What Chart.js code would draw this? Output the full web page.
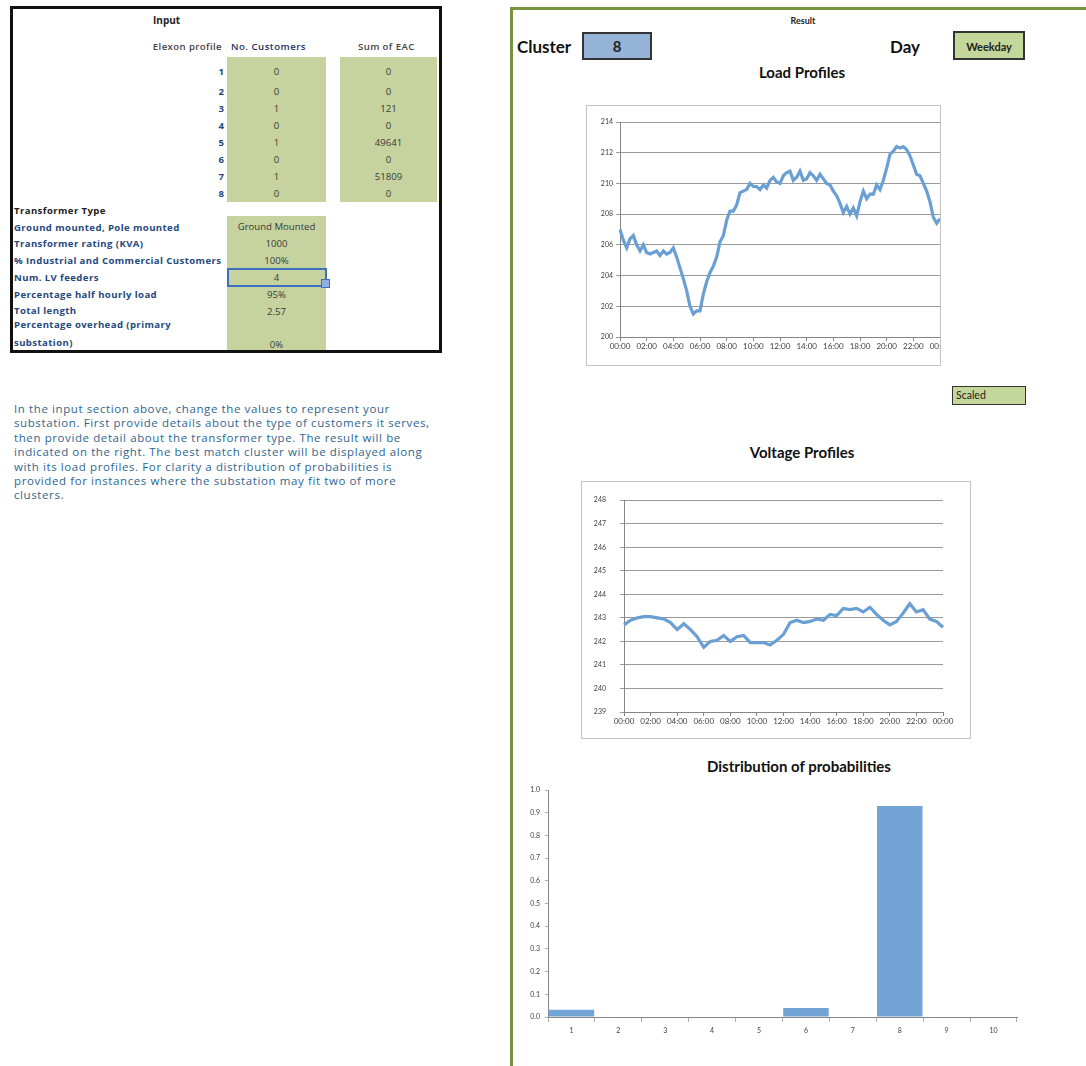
<!DOCTYPE html>
<html>
<head>
<meta charset="utf-8">
<script src="https://cdn.jsdelivr.net/npm/chart.js@4.4.0/dist/chart.umd.min.js"></script>
<style>
  body { margin: 0; background: #fff; font-family: Lato, "Liberation Sans", sans-serif; }
  #page { position: relative; width: 1086px; height: 1066px; overflow: hidden; }
  .t { position: absolute; white-space: nowrap; line-height: 14px; }
  .lbl { color: #1f497d; font-family: "Open Sans", sans-serif; font-size: 9.6px; font-weight: bold; left: 14px; letter-spacing: 0.4px; }
  .val { color: #3a3a3a; font-family: "Open Sans", sans-serif; font-size: 9.6px; text-align: center; width: 99px; }
  .num { color: #1f497d; font-family: "Open Sans", sans-serif; font-size: 9.6px; font-weight: bold; text-align: right; width: 40px; left: 184px; }
  .green { position: absolute; background: #c6d39f; }
  .title { position: absolute; font-weight: bold; font-size: 15px; color: #111; white-space: nowrap; transform: translateX(-50%); }
  .box { position: absolute; border: 1px solid #c4c4c4; background: #fff; }
  canvas { position: absolute; }
</style>
</head>
<body>
<div id="page">
  <!-- input panel -->
  <div style="position:absolute;left:10px;top:6px;width:426px;height:341px;border:3px solid #111;"></div>
  <div class="green" style="left:227px;top:57px;width:99px;height:145px;"></div>
  <div class="green" style="left:340px;top:57px;width:97px;height:145px;"></div>
  <div class="green" style="left:227px;top:216px;width:99px;height:134px;"></div>
  <div class="t" style="left:153px;top:13px;font-family:'Open Sans',sans-serif;font-size:10px;font-weight:bold;color:#222;">Input</div>
  <div class="t" style="left:130px;top:40px;width:92px;text-align:right;font-family:'Open Sans',sans-serif;font-size:9.6px;font-weight:600;color:#444;letter-spacing:0.4px;">Elexon profile</div>
  <div class="t" style="left:231px;top:40px;font-family:'Open Sans',sans-serif;font-size:9.6px;font-weight:600;color:#1f2f5f;letter-spacing:0.5px;">No. Customers</div>
  <div class="t" style="left:358px;top:40px;font-family:'Open Sans',sans-serif;font-size:9.6px;font-weight:600;color:#444;letter-spacing:0.4px;">Sum of EAC</div>
  <div id="rows"></div>

  <div class="t" style="left:14px;top:204px;font-family:'Open Sans',sans-serif;font-size:9.6px;font-weight:bold;color:#222;letter-spacing:0.4px;">Transformer Type</div>
  <div class="t lbl" style="top:221px;">Ground mounted, Pole mounted</div>
  <div class="t lbl" style="top:237px;">Transformer rating (KVA)</div>
  <div class="t lbl" style="top:254px;">% Industrial and Commercial Customers</div>
  <div class="t lbl" style="top:271px;">Num. LV feeders</div>
  <div class="t lbl" style="top:288px;">Percentage half hourly load</div>
  <div class="t lbl" style="top:304px;">Total length</div>
  <div class="t lbl" style="top:318px;">Percentage overhead (primary</div>
  <div class="t lbl" style="top:336px;">substation)</div>
  <div class="t val" style="left:227px;top:220px;">Ground Mounted</div>
  <div class="t val" style="left:227px;top:237px;">1000</div>
  <div class="t val" style="left:227px;top:254px;">100%</div>
  <div style="position:absolute;left:227px;top:268px;width:96px;height:15px;border:2px solid #3c6fbf;"></div>
  <div style="position:absolute;left:321px;top:279px;width:7px;height:7px;background:#8fb0e0;border:1px solid #3c6fbf;"></div>
  <div class="t val" style="left:227px;top:271px;">4</div>
  <div class="t val" style="left:227px;top:288px;">95%</div>
  <div class="t val" style="left:227px;top:305px;">2.57</div>
  <div class="t val" style="left:227px;top:338px;">0%</div>

  <div class="t" style="left:14px;top:402px;font-family:'Open Sans',sans-serif;font-size:11.5px;letter-spacing:0.6px;color:#2f6690;line-height:14.4px;">
    In the input section above, change the values to represent your<br>
    substation. First provide details about the type of customers it serves,<br>
    then provide detail about the transformer type. The result will be<br>
    indicated on the right. The best match cluster will be displayed along<br>
    with its load profiles. For clarity a distribution of probabilities is<br>
    provided for instances where the substation may fit two of more<br>
    clusters.
  </div>

  <!-- result panel -->
  <div style="position:absolute;left:510px;top:7px;width:700px;height:1100px;border-left:3px solid #77933c;border-top:3px solid #77933c;"></div>
  <div class="t" style="left:803px;top:14px;transform:translateX(-50%);font-size:9px;font-weight:bold;color:#222;">Result</div>
  <div class="t" style="left:517px;top:37px;font-size:17px;font-weight:bold;color:#111;line-height:20px;">Cluster</div>
  <div style="position:absolute;left:582px;top:32px;width:66px;height:24px;background:#95b3d7;border:2px solid #333;text-align:center;font-weight:bold;font-size:15px;line-height:24px;color:#222;">8</div>
  <div class="t" style="left:890px;top:37px;font-size:17px;font-weight:bold;color:#111;line-height:20px;">Day</div>
  <div style="position:absolute;left:953px;top:31px;width:68px;height:25px;background:#c4d79b;border:2px solid #333;text-align:center;font-weight:bold;font-size:11px;line-height:27px;color:#222;">Weekday</div>
  <div class="title" style="left:802px;top:63px;">Load Profiles</div>
  <div class="box" style="left:586px;top:105px;width:353px;height:259px;"></div>
  <canvas id="loadChart" width="353" height="259" style="left:587px;top:106px;"></canvas>
  <div style="position:absolute;left:952px;top:386px;width:69px;height:17px;background:#c4d79b;border:1.5px solid #333;font-size:10.5px;line-height:17px;color:#222;padding-left:3px;box-sizing:content-box;">Scaled</div>
  <div class="title" style="left:802px;top:443px;">Voltage Profiles</div>
  <div class="box" style="left:581px;top:481px;width:388px;height:256px;"></div>
  <canvas id="voltageChart" width="388" height="256" style="left:582px;top:482px;"></canvas>
  <div class="title" style="left:799px;top:757px;">Distribution of probabilities</div>
  <canvas id="probChart" width="515" height="265" style="left:515px;top:780px;"></canvas>
</div>

<script>
// Input table
const elexonProfiles = [1, 2, 3, 4, 5, 6, 7, 8];
const numCustomers = [0, 0, 1, 0, 1, 0, 1, 0];
const sumOfEAC = [0, 0, 121, 0, 49641, 0, 51809, 0];
const rowTops = [65, 85, 102, 119, 136, 153, 170, 187];

// Load profile (15 minute steps, 00:00 to 00:00)
const loadValues = [
  207.0, 206.3, 205.8, 206.4, 206.6, 206.0, 205.6, 206.0,
  205.5, 205.4, 205.5, 205.6, 205.3, 205.6, 205.4, 205.5,
  205.8, 205.2, 204.5, 203.8, 203.0, 202.0, 201.5, 201.7,
  201.7, 202.8, 203.6, 204.2, 204.6, 205.2, 206.2, 206.6,
  207.6, 208.2, 208.2, 208.6, 209.4, 209.5, 209.6, 210.0,
  209.8, 209.8, 209.6, 209.9, 209.7, 210.2, 210.4, 210.1,
  210.0, 210.5, 210.7, 210.8, 210.2, 210.4, 210.8, 210.2,
  210.3, 210.7, 210.5, 210.2, 210.6, 210.3, 210.0, 209.9,
  209.5, 209.2, 208.7, 208.1, 208.5, 208.0, 208.4, 207.9,
  208.8, 209.5, 209.0, 209.3, 209.3, 209.9, 209.6, 210.2,
  211.0, 211.9, 212.1, 212.4, 212.3, 212.4, 212.2, 211.8,
  211.2, 210.6, 210.5, 210.0, 209.5, 208.8, 207.8, 207.4,
  207.7
];

// Voltage profile (half hourly, 00:00 to 00:00)
const voltageValues = [
  242.7, 242.9, 243.0, 243.05, 243.05, 243.0, 242.95, 242.8,
  242.5, 242.75, 242.5, 242.2, 241.75, 242.0, 242.05, 242.25,
  242.0, 242.2, 242.25, 241.95, 241.95, 241.95, 241.85, 242.05,
  242.3, 242.8, 242.9, 242.8, 242.85, 242.95, 242.9, 243.15,
  243.1, 243.4, 243.35, 243.4, 243.25, 243.45, 243.15, 242.9,
  242.7, 242.85, 243.2, 243.6, 243.25, 243.35, 242.95, 242.85,
  242.6
];

// Probability per cluster
const clusterLabels = ['1', '2', '3', '4', '5', '6', '7', '8', '9', '10'];
const clusterProbabilities = [0.032, 0, 0, 0, 0, 0.04, 0, 0.93, 0, 0];

function timeLabels(stepMinutes, count) {
  const out = [];
  for (let i = 0; i < count; i++) {
    const m = (i * stepMinutes) % 1440;
    out.push(String(Math.floor(m / 60)).padStart(2, '0') + ':' + String(m % 60).padStart(2, '0'));
  }
  return out;
}
const loadTimes = timeLabels(15, loadValues.length);
const voltageTimes = timeLabels(30, voltageValues.length);

// table rows
const rows = document.getElementById('rows');
elexonProfiles.forEach((p, i) => {
  rows.insertAdjacentHTML('beforeend',
    `<div class="t num" style="top:${rowTops[i]}px;">${p}</div>` +
    `<div class="t val" style="left:227px;top:${rowTops[i]}px;">${numCustomers[i]}</div>` +
    `<div class="t val" style="left:340px;top:${rowTops[i]}px;width:97px;">${sumOfEAC[i]}</div>`);
});

const axisGray = '#868686';
const lineBlue = '#6a9fd4';
Chart.defaults.font.family = 'Lato, "Liberation Sans", sans-serif';
Chart.defaults.color = '#404040';

function profileChart(id, labels, values, yMin, yMax, step, every, opts) {
  return new Chart(document.getElementById(id), {
    type: 'line',
    data: {
      labels: labels,
      datasets: [{
        data: values,
        borderColor: lineBlue,
        borderWidth: 3.2,
        pointRadius: 0,
        tension: 0,
        fill: false
      }]
    },
    options: {
      responsive: false,
      animation: false,
      devicePixelRatio: 1,
      layout: { padding: { top: opts.top, right: opts.right, left: 0, bottom: 0 } },
      plugins: { legend: { display: false }, tooltip: { enabled: false } },
      scales: {
        x: {
          grid: {
            drawOnChartArea: false,
            tickLength: 4,
            color: ctx => (ctx.index % every === 0 ? axisGray : 'rgba(0,0,0,0)')
          },
          border: { color: axisGray },
          ticks: {
            autoSkip: false,
            maxRotation: 0,
            minRotation: 0,
            padding: 1,
            font: { size: 8 },
            callback: (v, i) => (i % every === 0 ? labels[i] : '')
          },
          afterFit: s => { s.height = opts.xh; s.paddingLeft = 0; s.paddingRight = 0; }
        },
        y: {
          min: yMin,
          max: yMax,
          grid: { color: '#9a9a9a', tickLength: 4 },
          border: { color: axisGray },
          ticks: { stepSize: step, padding: opts.yPad, font: { size: 7 } },
          afterFit: s => { s.width = opts.yw; }
        }
      }
    }
  });
}

profileChart('loadChart', loadTimes, loadValues, 200, 214, 2, 8,
  { top: 16, right: 0, xh: 28, yw: 33, yPad: 3 });
profileChart('voltageChart', voltageTimes, voltageValues, 239, 248, 1, 4,
  { top: 13, right: 27, xh: 26, yw: 42, yPad: 14 });

new Chart(document.getElementById('probChart'), {
  type: 'bar',
  data: {
    labels: clusterLabels,
    datasets: [{
      data: clusterProbabilities,
      backgroundColor: '#72a5d6',
      categoryPercentage: 1.0,
      barPercentage: 0.97
    }]
  },
  options: {
    responsive: false,
    animation: false,
    devicePixelRatio: 1,
    layout: { padding: { top: 10, right: 13, left: 0, bottom: 0 } },
    plugins: { legend: { display: false }, tooltip: { enabled: false } },
    scales: {
      x: {
        offset: true,
        grid: { offset: true, drawOnChartArea: false, tickLength: 5, color: '#b0b0b0' },
        border: { color: axisGray },
        ticks: { font: { size: 7 }, padding: 5, maxRotation: 0 },
        afterFit: s => { s.height = 28; }
      },
      y: {
        min: 0,
        max: 1,
        grid: { drawOnChartArea: false, tickLength: 3, color: '#b0b0b0' },
        border: { color: axisGray },
        ticks: { stepSize: 0.1, padding: 5, font: { size: 7 }, callback: v => v.toFixed(1) },
        afterFit: s => { s.width = 33; }
      }
    }
  }
});
</script>
</body>
</html>
